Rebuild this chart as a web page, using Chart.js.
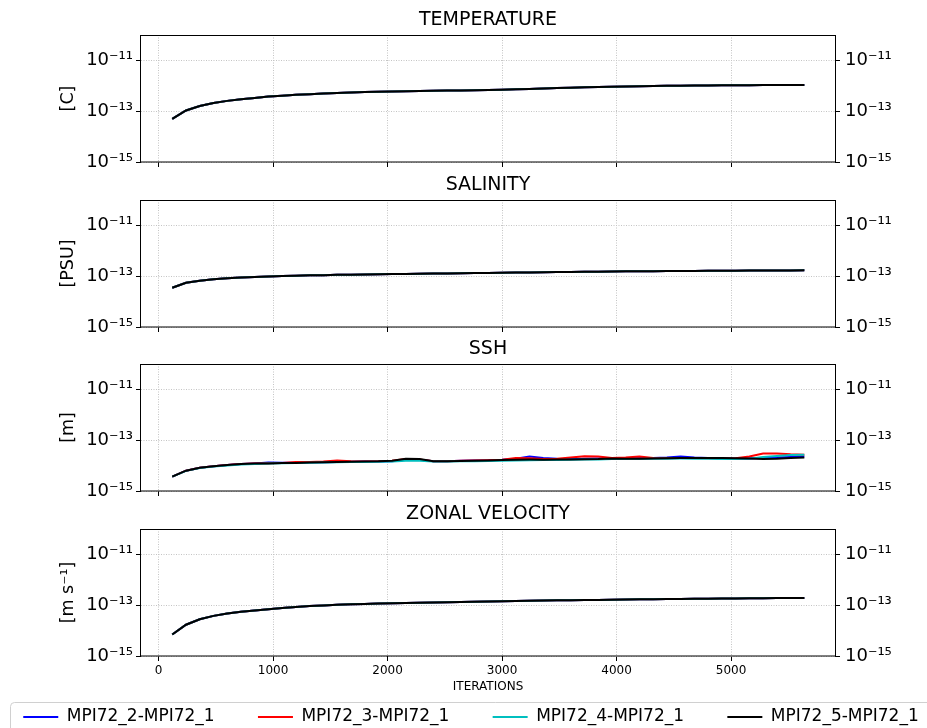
<!DOCTYPE html>
<html>
<head>
<meta charset="utf-8">
<script src="https://cdn.jsdelivr.net/npm/chart.js@4.4.1/dist/chart.umd.min.js"></script>
<style>
  html, body { margin: 0; padding: 0; background: #fff; overflow: hidden; width: 927px; height: 728px; }
  .panel { position: absolute; }
</style>
</head>
<body>
<div class="panel" style="left:0;top:0"><canvas id="cTemp" width="927" height="172"></canvas></div>
<div class="panel" style="left:0;top:165px"><canvas id="cSalt" width="927" height="172"></canvas></div>
<div class="panel" style="left:0;top:329px"><canvas id="cSsh" width="927" height="172"></canvas></div>
<div class="panel" style="left:-34px;top:494px"><canvas id="cUvel" width="1010" height="279"></canvas></div>
<script>
const ITERATIONS = [120, 240, 360, 480, 600, 720, 840, 960, 1080, 1200, 1320, 1440, 1560, 1680, 1800, 1920,
  2040, 2160, 2280, 2400, 2520, 2640, 2760, 2880, 3000, 3120, 3240, 3360, 3480, 3600, 3720, 3840, 3960,
  4080, 4200, 4320, 4440, 4560, 4680, 4800, 4920, 5040, 5160, 5280, 5400, 5520, 5640];

const TEMP = [5.0e-14, 1.07e-13, 1.6e-13, 2.1e-13, 2.55e-13, 2.95e-13, 3.3e-13, 3.75e-13, 4.1e-13, 4.4e-13,
  4.7e-13, 5.0e-13, 5.25e-13, 5.45e-13, 5.65e-13, 5.85e-13, 6.0e-13, 6.15e-13, 6.3e-13, 6.4e-13,
  6.5e-13, 6.6e-13, 6.7e-13, 6.85e-13, 7.05e-13, 7.3e-13, 7.55e-13, 7.85e-13, 8.15e-13, 8.45e-13,
  8.7e-13, 8.95e-13, 9.2e-13, 9.4e-13, 9.6e-13, 9.8e-13, 9.95e-13, 1.01e-12, 1.02e-12, 1.03e-12,
  1.04e-12, 1.05e-12, 1.06e-12, 1.065e-12, 1.07e-12, 1.075e-12, 1.08e-12];

const SALT = [3.5e-14, 5.5e-14, 6.6e-14, 7.6e-14, 8.3e-14, 8.9e-14, 9.4e-14, 9.8e-14, 1.02e-13, 1.05e-13,
  1.08e-13, 1.1e-13, 1.13e-13, 1.15e-13, 1.17e-13, 1.19e-13, 1.21e-13, 1.23e-13, 1.25e-13, 1.27e-13,
  1.29e-13, 1.31e-13, 1.33e-13, 1.35e-13, 1.37e-13, 1.39e-13, 1.41e-13, 1.43e-13, 1.45e-13, 1.47e-13,
  1.49e-13, 1.51e-13, 1.53e-13, 1.55e-13, 1.57e-13, 1.58e-13, 1.6e-13, 1.61e-13, 1.62e-13, 1.63e-13,
  1.64e-13, 1.65e-13, 1.66e-13, 1.67e-13, 1.68e-13, 1.69e-13, 1.7e-13];

const SSH_2 = [3.7e-15, 6.3e-15, 8.3e-15, 9.5e-15, 1.05e-14, 1.15e-14, 1.22e-14, 1.32e-14, 1.3e-14, 1.3e-14,
  1.34e-14, 1.37e-14, 1.4e-14, 1.42e-14, 1.44e-14, 1.45e-14, 1.5e-14, 1.7e-14, 1.7e-14, 1.5e-14,
  1.5e-14, 1.55e-14, 1.6e-14, 1.62e-14, 1.7e-14, 1.85e-14, 2.3e-14, 2.0e-14, 1.85e-14, 1.8e-14,
  1.85e-14, 1.9e-14, 1.95e-14, 1.9e-14, 1.95e-14, 2.0e-14, 2.1e-14, 2.3e-14, 2.1e-14, 2.0e-14,
  1.9e-14, 1.85e-14, 1.9e-14, 2.0e-14, 2.1e-14, 2.2e-14, 2.3e-14];

const SSH_3 = [3.7e-15, 6.3e-15, 8.3e-15, 9.5e-15, 1.05e-14, 1.15e-14, 1.2e-14, 1.24e-14, 1.27e-14, 1.4e-14,
  1.38e-14, 1.45e-14, 1.6e-14, 1.5e-14, 1.45e-14, 1.48e-14, 1.55e-14, 1.8e-14, 1.75e-14, 1.5e-14,
  1.48e-14, 1.55e-14, 1.58e-14, 1.62e-14, 1.7e-14, 2.0e-14, 1.95e-14, 1.8e-14, 1.85e-14, 2.1e-14,
  2.35e-14, 2.3e-14, 2.0e-14, 2.1e-14, 2.3e-14, 2.0e-14, 1.95e-14, 2.0e-14, 2.0e-14, 1.95e-14,
  1.9e-14, 1.95e-14, 2.3e-14, 3.0e-14, 3.0e-14, 2.8e-14, 2.7e-14];

const SSH_4 = [3.7e-15, 6.2e-15, 8.0e-15, 9.2e-15, 1.02e-14, 1.1e-14, 1.15e-14, 1.2e-14, 1.24e-14, 1.27e-14,
  1.3e-14, 1.33e-14, 1.36e-14, 1.38e-14, 1.4e-14, 1.42e-14, 1.45e-14, 1.55e-14, 1.55e-14, 1.45e-14,
  1.45e-14, 1.48e-14, 1.5e-14, 1.52e-14, 1.55e-14, 1.6e-14, 1.62e-14, 1.65e-14, 1.68e-14, 1.7e-14,
  1.72e-14, 1.75e-14, 1.8e-14, 1.8e-14, 1.82e-14, 1.85e-14, 1.88e-14, 1.9e-14, 1.88e-14, 1.85e-14,
  1.8e-14, 1.8e-14, 1.85e-14, 2.2e-14, 2.4e-14, 2.6e-14, 2.7e-14];

const SSH_5 = [3.7e-15, 6.3e-15, 8.3e-15, 9.5e-15, 1.05e-14, 1.15e-14, 1.2e-14, 1.22e-14, 1.26e-14, 1.28e-14,
  1.32e-14, 1.36e-14, 1.38e-14, 1.42e-14, 1.44e-14, 1.47e-14, 1.55e-14, 1.85e-14, 1.8e-14, 1.5e-14,
  1.47e-14, 1.52e-14, 1.55e-14, 1.6e-14, 1.65e-14, 1.7e-14, 1.72e-14, 1.7e-14, 1.72e-14, 1.75e-14,
  1.78e-14, 1.8e-14, 1.9e-14, 1.85e-14, 1.85e-14, 1.9e-14, 1.95e-14, 2.0e-14, 2.0e-14, 2.0e-14,
  2.0e-14, 1.95e-14, 1.9e-14, 1.8e-14, 1.85e-14, 2.0e-14, 2.1e-14];

const UVEL = [7.0e-15, 1.7e-14, 2.8e-14, 3.8e-14, 4.7e-14, 5.5e-14, 6.2e-14, 7.0e-14, 7.8e-14, 8.5e-14,
  9.2e-14, 9.8e-14, 1.03e-13, 1.08e-13, 1.12e-13, 1.16e-13, 1.2e-13, 1.23e-13, 1.26e-13, 1.29e-13,
  1.32e-13, 1.35e-13, 1.38e-13, 1.41e-13, 1.44e-13, 1.47e-13, 1.5e-13, 1.52e-13, 1.55e-13, 1.57e-13,
  1.6e-13, 1.62e-13, 1.65e-13, 1.67e-13, 1.7e-13, 1.72e-13, 1.74e-13, 1.76e-13, 1.78e-13, 1.8e-13,
  1.82e-13, 1.84e-13, 1.86e-13, 1.88e-13, 1.9e-13, 1.92e-13, 1.94e-13];

const RUN_LABELS = ['MPI72_2-MPI72_1', 'MPI72_3-MPI72_1', 'MPI72_4-MPI72_1', 'MPI72_5-MPI72_1'];
const RUN_COLORS = ['#0000ff', '#ff0000', '#00bfbf', '#000000'];
const PANEL_TITLES = ['TEMPERATURE', 'SALINITY', 'SSH', 'ZONAL VELOCITY'];
const PANEL_UNITS = ['[C]', '[PSU]', '[m]', '[m s⁻¹]'];
const X_TITLE = 'ITERATIONS';
const X_TICKS = [0, 1000, 2000, 3000, 4000, 5000];
const X_TICK_LABELS = ['0', '1000', '2000', '3000', '4000', '5000'];
const Y_TICKS = [1e-15, 1e-13, 1e-11];
const Y_TICK_LABELS = ['10⁻¹⁵', '10⁻¹³', '10⁻¹¹'];

// one list of runs per panel (the temperature, salinity and velocity runs overlap)
const PANEL_SERIES = [
  [TEMP, TEMP, TEMP, TEMP],
  [SALT, SALT, SALT, SALT],
  [SSH_2, SSH_3, SSH_4, SSH_5],
  [UVEL, UVEL, UVEL, UVEL]
];

Chart.defaults.font.family = "'DejaVu Sans', sans-serif";
Chart.defaults.color = '#000';
Chart.defaults.animation = false;

const GRID_COLOR = '#c4c4c4';
const LEGEND_PAD = 43.3;
const LEGEND_FONT = 17;

// black frame round the plot area
const frameBox = {
  id: 'frameBox',
  afterDraw(chart) {
    const a = chart.chartArea;
    const ctx = chart.ctx;
    ctx.save();
    ctx.strokeStyle = '#000';
    ctx.lineWidth = 1;
    ctx.strokeRect(Math.round(a.left) - 0.5, Math.round(a.top) + 0.5, Math.round(a.right - a.left) + 1, Math.round(a.bottom - a.top) - 0.5);
    ctx.restore();
  }
};

// legend row sits closer to the axis than chart.js would put it, plus a light frame like matplotlib's
const legendFrame = {
  id: 'legendFrame',
  beforeDraw(chart, args, opts) {
    if (!opts.show) return;
    const lg = chart.legend;
    const h = lg.bottom - lg.top;
    lg.top = chart.chartArea.bottom + 61 - LEGEND_PAD - LEGEND_FONT / 2;
    lg.bottom = lg.top + h;
  },
  afterDraw(chart, args, opts) {
    if (!opts.show) return;
    const ctx = chart.ctx;
    ctx.save();
    ctx.strokeStyle = '#d0d0d0';
    ctx.lineWidth = 1;
    ctx.beginPath();
    ctx.roundRect(opts.left + 0.5, Math.round(chart.chartArea.bottom) + 46.5, 1200, 60, 4);
    ctx.stroke();
    ctx.restore();
  }
};

function yTicksFromList(scale) {
  scale.ticks = Y_TICKS.map(v => ({ value: v }));
}

function noLabelPadding(s) {
  s.paddingTop = 0;
  s.paddingBottom = 0;
  s.paddingLeft = 0;
  s.paddingRight = 0;
}

function drawPanel(canvasId, idx, shift, isLast) {
  const series = PANEL_SERIES[idx];
  const canvas = document.getElementById(canvasId);
  const W = canvas.width;
  const plotLeft = 141 + shift;
  const plotRight = 835 + shift;

  const datasets = RUN_LABELS.map((name, k) => ({
    label: name,
    data: ITERATIONS.map((it, j) => ({ x: it, y: series[k][j] })),
    borderColor: RUN_COLORS[k],
    backgroundColor: RUN_COLORS[k],
    borderWidth: 2,
    pointRadius: 0,
    tension: 0,
    order: 4 - k
  }));

  return new Chart(canvas, {
    type: 'line',
    data: { datasets: datasets },
    plugins: [frameBox, legendFrame],
    options: {
      responsive: false,
      devicePixelRatio: 1,
      layout: { padding: 0, autoPadding: false },
      plugins: {
        title: {
          display: true,
          fullSize: false,
          text: PANEL_TITLES[idx],
          font: { size: 19, weight: 'normal' },
          color: '#000',
          padding: { top: 8.6, bottom: 3.6 }
        },
        legend: {
          display: isLast,
          position: 'bottom',
          labels: {
            usePointStyle: true,
            pointStyle: 'line',
            pointStyleWidth: 35,
            padding: LEGEND_PAD,
            color: '#000',
            font: { size: LEGEND_FONT },
            sort: (a, b) => a.datasetIndex - b.datasetIndex
          }
        },
        legendFrame: { show: isLast, left: 10 + shift },
        tooltip: { enabled: false }
      },
      scales: {
        x: {
          type: 'linear',
          position: 'bottom',
          min: -153,
          max: 5908,
          afterBuildTicks: s => { s.ticks = X_TICKS.map(v => ({ value: v })); },
          afterFit: s => { noLabelPadding(s); s.height = isLast ? 46.7 : 10; },
          ticks: {
            display: isLast,
            padding: 3,
            font: { size: 12 },
            color: '#000',
            callback: v => X_TICK_LABELS[X_TICKS.indexOf(v)]
          },
          grid: {
            color: GRID_COLOR,
            lineWidth: 1,
            tickLength: 5,
            tickColor: '#000',
            tickWidth: 1,
            tickBorderDash: []
          },
          border: { display: false, dash: [1, 1.5] },
          title: {
            display: isLast,
            text: X_TITLE,
            font: { size: 12 },
            color: '#000',
            padding: { top: 0, bottom: 9 }
          }
        },
        y: {
          type: 'logarithmic',
          position: 'left',
          min: 1e-15,
          max: 1e-10,
          afterBuildTicks: yTicksFromList,
          afterFit: s => { noLabelPadding(s); s.width = plotLeft; },
          ticks: {
            padding: 3,
            font: { size: 18 },
            color: '#000',
            callback: v => Y_TICK_LABELS[Y_TICKS.indexOf(v)]
          },
          grid: {
            color: GRID_COLOR,
            lineWidth: 1,
            tickLength: 5,
            tickColor: '#000',
            tickWidth: 1,
            tickBorderDash: []
          },
          border: { display: false, dash: [1, 1.5] },
          title: {
            display: true,
            text: PANEL_UNITS[idx],
            font: { size: 17.5 },
            color: '#000',
            padding: { top: 57.5 + shift, bottom: 0 }
          }
        },
        y2: {
          type: 'logarithmic',
          position: 'right',
          min: 1e-15,
          max: 1e-10,
          afterBuildTicks: yTicksFromList,
          afterFit: s => { noLabelPadding(s); s.width = W - plotRight; },
          ticks: {
            padding: 5,
            font: { size: 18 },
            color: '#000',
            callback: v => Y_TICK_LABELS[Y_TICKS.indexOf(v)]
          },
          grid: {
            drawOnChartArea: false,
            tickLength: 5,
            tickColor: '#000',
            tickWidth: 1,
            tickBorderDash: []
          },
          border: { display: false }
        }
      }
    }
  });
}

drawPanel('cTemp', 0, 0, false);
drawPanel('cSalt', 1, 0, false);
drawPanel('cSsh', 2, 0, false);
drawPanel('cUvel', 3, 34, true);
</script>
</body>
</html>
